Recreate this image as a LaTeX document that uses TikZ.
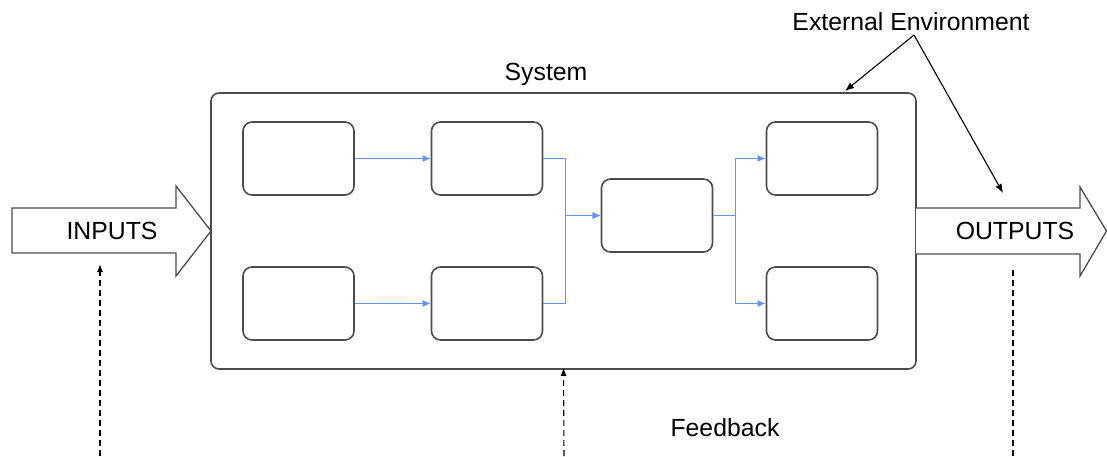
\documentclass[tikz,border=0pt]{standalone}
\usepackage{fontspec}
\setmainfont{Liberation Sans}
\usetikzlibrary{arrows.meta}
\newlength{\du}
\setlength{\du}{0.5pt}
\definecolor{boxline}{rgb}{0.300000, 0.300000, 0.300000}
\definecolor{flowline}{rgb}{0.380000, 0.580000, 0.980000}
\tikzset{
  lbl/.style={font=\fontsize{12.4}{15}\selectfont, inner sep=0pt},
  sysbox/.style={draw=boxline, line width=1.6\du, rounded corners=8\du, minimum width=705\du, minimum height=276\du, inner sep=0pt},
  unitbox/.style={draw=boxline, line width=1.6\du, rounded corners=9\du, minimum width=111\du, minimum height=73\du, inner sep=0pt},
  flow/.style={draw=flowline, line width=1.4\du, -{Latex[length=4pt,width=3.5pt]}},
  bigarrow/.style={draw=boxline, line width=1.3\du, fill=white},
  pointer/.style={draw=black, line width=1.1\du, -{Latex[length=4.5pt,width=3.5pt]}},
  fbline/.style={draw=black, line width=1.1\du, dash pattern=on 3pt off 2pt},
  fbtip/.style={-{Latex[length=4pt,width=3pt]}}
}
\begin{document}
\begin{tikzpicture}
\pgftransformyscale{-1.000000}
\useasboundingbox (0\du,0\du) rectangle (1107\du,456\du);
% system and its parts
\node[sysbox] (sys) at (563.5\du,231\du){};
\node[lbl] (syslbl) at (546\du,74\du){System};
\node[unitbox] (ua) at (298.5\du,158.5\du){};
\node[unitbox] (ub) at (487\du,158.5\du){};
\node[unitbox] (uc) at (298.5\du,303.5\du){};
\node[unitbox] (ud) at (487\du,303.5\du){};
\node[unitbox] (ue) at (657\du,215.5\du){};
\node[unitbox] (uf) at (822\du,158.5\du){};
\node[unitbox] (ug) at (822\du,303.5\du){};
\draw[flow] (ua) -- (ub);
\draw[flow] (uc) -- (ud);
\draw[flow] (ub.east) -- ++(22\du,0) |- (ue.west);
\draw[flow] (ud.east) -- ++(22\du,0) |- (ue.west);
\draw[flow] (ue.east) -- ++(22\du,0) |- (uf.west);
\draw[flow] (ue.east) -- ++(22\du,0) |- (ug.west);
% inputs and outputs
\draw[bigarrow] (12\du,208\du)--(176\du,208\du)--(176\du,186\du)--(211\du,231\du)--(176\du,276\du)--(176\du,253\du)--(12\du,253\du)--cycle;
\node[lbl] (inputs) at (112\du,231\du){INPUTS};
\draw[bigarrow] (916\du,208\du)--(1080\du,208\du)--(1080\du,187\du)--(1106.5\du,231\du)--(1080\du,276\du)--(1080\du,254\du)--(916\du,254\du);
\node[lbl] (outputs) at (1015\du,231\du){OUTPUTS};
% environment
\node[lbl] (extenv) at (911\du,22\du){External Environment};
\coordinate (envfoot) at (914\du,35\du);
\coordinate (envsys) at (845\du,91\du);
\coordinate (envout) at (1003\du,193\du);
\draw[pointer] (envfoot) -- (envsys);
\draw[pointer] (envfoot) -- (envout);
% feedback
\node[lbl] (feedback) at (725\du,428\du){Feedback};
\coordinate (fbin) at (100\du,456\du);
\coordinate (fbinend) at (100\du,264\du);
\coordinate (fbsys) at (564\du,456\du);
\coordinate (fbout) at (1013\du,456\du);
\coordinate (fboutend) at (1013\du,268\du);
\draw[fbline, fbtip] (fbin) -- (fbinend);
\draw[fbline, fbtip] (fbsys) -- ([yshift=-2\du]sys.south);
\draw[fbline] (fbout) -- (fboutend);
\end{tikzpicture}
\end{document}
